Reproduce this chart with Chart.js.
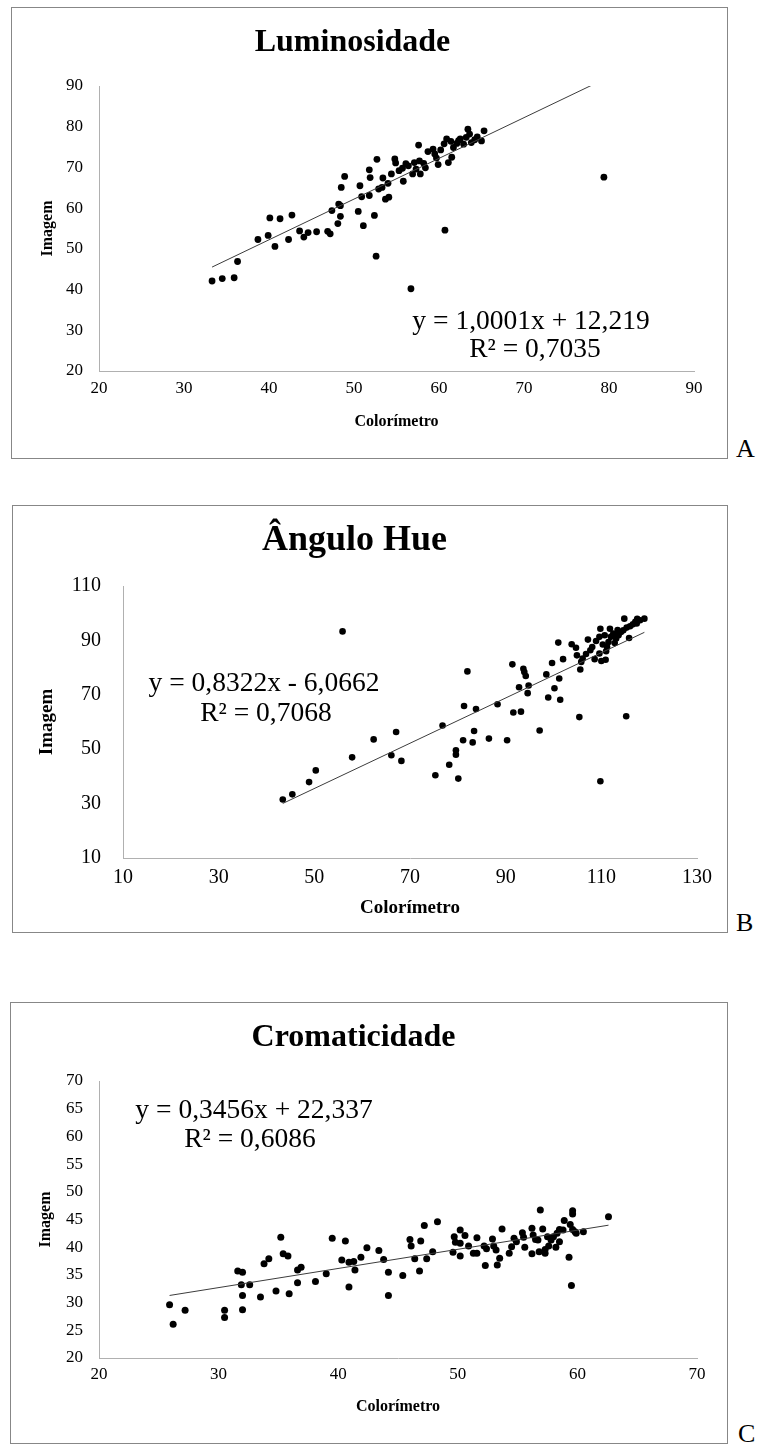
<!DOCTYPE html>
<html lang="pt">
<head>
<meta charset="utf-8">
<title>Colorímetro x Imagem</title>
<script src="https://cdn.jsdelivr.net/npm/chart.js@4.4.1/dist/chart.umd.min.js"></script>
<style>
  body { margin: 0; background: #fff; }
  #pagina { position: relative; width: 763px; height: 1446px; font-family: "Liberation Serif", "Times New Roman", serif; }
  .quadro { position: absolute; border: 1px solid #878787; box-sizing: border-box; }
  canvas { position: absolute; }
  .letra { position: absolute; font-size: 26px; line-height: 26px; color: #000; }
</style>
</head>
<body>
<div id="pagina">
  <canvas id="graficoA" width="716" height="451" style="left:11px;top:7px"></canvas>
  <div class="quadro" style="left:11px;top:7px;width:717px;height:452px"></div>
  <div class="letra" style="left:736px;top:436px">A</div>

  <canvas id="graficoB" width="715" height="427" style="left:12px;top:505px"></canvas>
  <div class="quadro" style="left:12px;top:505px;width:716px;height:428px"></div>
  <div class="letra" style="left:736px;top:910px">B</div>

  <canvas id="graficoC" width="717" height="441" style="left:10px;top:1002px"></canvas>
  <div class="quadro" style="left:10px;top:1002px;width:718px;height:442px"></div>
  <div class="letra" style="left:738px;top:1421px">C</div>
</div>

<script>
// Luminosidade (A)
const lumColorimetro = [33.3, 34.5, 35.9, 36.3, 38.7, 39.9, 40.1, 40.7, 41.3, 42.3, 42.7, 43.6, 44.1, 44.6, 45.6,
  46.9, 47.2, 47.4, 48.1, 48.2, 48.4, 48.4, 48.5, 48.9, 50.5, 50.7, 50.9, 51.1, 51.8, 51.8, 51.9, 52.4, 52.6,
  52.7, 52.9, 53.3, 53.4, 53.7, 54.0, 54.1, 54.4, 54.8, 54.9, 55.3, 55.7, 55.8, 56.1, 56.4, 56.7, 56.9, 57.1,
  57.3, 57.6, 57.7, 57.8, 58.2, 58.4, 58.7, 59.3, 59.5, 59.7, 59.9, 60.2, 60.6, 60.7, 60.9, 61.1, 61.4, 61.5,
  61.7, 62.1, 62.3, 62.5, 62.9, 63.2, 63.4, 63.6, 63.8, 64.2, 64.5, 65.0, 65.3, 79.4];
const lumImagem = [42.1, 42.7, 42.9, 46.9, 52.3, 53.3, 57.6, 50.6, 57.4, 52.3, 58.3, 54.4, 52.9, 54.0, 54.2,
  54.3, 53.7, 59.4, 56.2, 61.0, 58.0, 60.6, 65.1, 67.8, 59.2, 65.5, 62.8, 55.7, 63.1, 69.4, 67.5, 58.2, 48.2,
  72.0, 64.7, 65.1, 67.4, 62.2, 66.1, 62.7, 68.4, 72.1, 71.1, 69.2, 69.8, 66.6, 70.9, 70.4, 40.2, 68.4, 71.2,
  69.6, 75.5, 71.6, 68.4, 71.0, 69.9, 73.9, 74.5, 73.3, 72.3, 70.7, 74.3, 75.8, 54.6, 77.0, 71.2, 76.4, 72.5,
  74.9, 75.9, 76.6, 77.0, 75.7, 77.4, 79.4, 78.2, 76.1, 76.8, 77.5, 76.5, 79.0, 67.6];
const lumTendencia = [1.0001, 12.219];
const lumEixoX = [20, 90, 10];
const lumEixoY = [20, 90, 10];

// Ângulo Hue (B)
const hueColorimetro = [43.4, 45.4, 48.9, 50.3, 55.9, 57.9, 62.4, 66.1, 67.1, 68.2, 75.3, 76.8, 78.2, 79.6, 79.6,
  80.1, 81.1, 81.3, 82.0, 83.1, 83.4, 83.8, 86.5, 88.3, 90.3, 91.4, 91.6, 92.8, 93.2, 93.7, 93.9, 94.2, 94.6,
  94.8, 97.1, 98.5, 98.9, 99.7, 100.2, 101.0, 101.2, 101.4, 102.0, 103.8, 104.7, 104.9, 105.4, 105.6, 105.8,
  106.1, 106.8, 107.2, 107.7, 108.1, 108.6, 108.9, 109.6, 109.6, 109.8, 109.8, 110.0, 110.3, 110.7, 110.9,
  111.0, 111.2, 111.5, 111.8, 112.0, 112.5, 112.8, 113.1, 113.4, 113.6, 114.1, 114.6, 114.8, 115.2, 115.3,
  115.8, 116.0, 116.6, 117.1, 117.4, 117.5, 118.1, 119.0];
const hueImagem = [31.5, 33.4, 37.9, 42.2, 93.3, 47.0, 53.6, 47.8, 56.3, 45.7, 40.4, 58.7, 44.3, 48.0, 49.6,
  39.2, 53.3, 65.9, 78.6, 52.5, 56.7, 64.8, 53.9, 66.5, 53.3, 81.2, 63.5, 72.8, 63.8, 79.6, 78.4, 76.9, 70.6,
  73.4, 56.9, 77.5, 69.0, 81.7, 72.4, 89.2, 76.0, 68.2, 83.1, 88.6, 87.3, 84.5, 61.8, 79.3, 82.1,
  83.3, 85.0, 90.3, 86.4, 87.6, 83.1, 89.8, 85.2, 91.3, 94.3, 38.2, 82.4, 88.5, 91.9, 82.9,
  86.0, 87.6, 89.4, 94.3, 91.3, 92.5, 89.0, 90.7, 93.8, 91.9, 93.1, 93.7, 98.0, 62.1, 94.7,
  90.9, 95.2, 95.9, 96.8, 96.2, 97.9, 97.4, 98.0];
const hueTendencia = [0.8322, -6.0662];
const hueEixoX = [10, 130, 20];
const hueEixoY = [10, 110, 20];

// Cromaticidade (C)
const cromaColorimetro = [25.9, 26.2, 27.2, 30.5, 30.5, 31.6, 32.0, 31.9, 32.6, 32.0, 32.0, 33.5, 33.8, 34.2,
  34.8, 35.2, 35.4, 35.8, 35.9, 36.6, 36.6, 36.9, 38.1, 39.0, 39.5, 40.3, 40.6, 40.9, 40.9, 41.3, 41.4, 41.9,
  42.4, 43.4, 43.8, 44.2, 44.2, 45.4, 46.0, 46.1, 46.4, 46.8, 46.9, 47.2, 47.4, 47.9, 48.3, 49.6, 49.7, 49.8,
  50.2, 50.2, 50.2, 50.6, 50.9, 51.3, 51.6, 51.6, 52.2, 52.3, 52.4, 52.9, 53.0, 53.2, 53.3, 53.5, 53.7, 54.3,
  54.5, 54.7, 54.9, 55.4, 55.5, 55.6, 56.2, 56.3, 56.2, 56.5, 56.7, 56.8, 56.9, 57.1, 57.3, 57.3, 57.5, 57.6,
  57.8, 58.0, 58.2, 58.3, 58.5, 58.5, 58.8, 58.9, 59.3, 59.5, 59.6, 59.6, 59.4, 59.6, 59.8, 59.9, 60.5, 62.6];
const cromaImagem = [29.6, 26.1, 28.6, 28.6, 27.3, 35.7, 35.5, 33.2, 33.2, 31.3, 28.7, 31.0, 37.0, 37.9,
  32.1, 41.8, 38.8, 38.4, 31.6, 33.6, 35.9, 36.4, 33.8, 35.2, 41.6, 37.7, 41.1, 37.3, 32.8, 37.4, 35.9, 38.2,
  39.9, 39.4, 37.8, 35.5, 31.3, 34.9, 41.4, 40.2, 37.9, 35.7, 41.1, 43.9, 37.9, 39.2, 44.6, 39.1, 41.9, 40.9,
  40.7, 38.4, 43.1, 42.1, 40.2, 38.9, 41.7, 38.9, 40.2, 36.7, 39.7, 41.5, 40.2, 39.5, 36.8, 38.0, 43.3, 38.9,
  40.1, 41.6, 41.0, 42.6, 41.8, 40.0, 43.4, 42.2, 38.8, 41.4, 41.3, 39.2, 46.7, 43.3, 39.6, 38.9, 41.9, 40.2,
  41.3, 41.9, 40.0, 42.5, 41.0, 43.2, 43.1, 44.8, 38.2, 33.1, 46.6, 46.0, 44.1, 43.2, 42.8, 42.5, 42.8, 45.5];
const cromaTendencia = [0.3456, 22.337];
const cromaEixoX = [20, 70, 10];
const cromaEixoY = [20, 70, 5];

const fonte = 'Liberation Serif';

// escreve a equacao da linha de tendencia
const equacaoPlugin = {
  id: 'equacao',
  afterDraw(chart, args, opts) {
    const ctx = chart.ctx;
    ctx.save();
    ctx.fillStyle = '#000';
    ctx.font = opts.tamanho + 'px "' + fonte + '"';
    ctx.textAlign = 'center';
    ctx.textBaseline = 'alphabetic';
    opts.linhas.forEach(l => ctx.fillText(l[0], l[1], l[2]));
    ctx.restore();
  }
};

function criarGrafico(id, cfg) {
  const pontos = cfg.x.map((v, i) => ({ x: v, y: cfg.y[i] }));
  const xmin = Math.min(...cfg.x);
  const xmax = Math.max(...cfg.x);
  const tendencia = [
    { x: xmin, y: cfg.coef[0] * xmin + cfg.coef[1] },
    { x: xmax, y: cfg.coef[0] * xmax + cfg.coef[1] }
  ];
  const canvas = document.getElementById(id);

  new Chart(canvas, {
    type: 'scatter',
    data: {
      datasets: [
        { data: tendencia, showLine: true, borderColor: '#3c3c3c', borderWidth: 1, pointRadius: 0 },
        { data: pontos, pointRadius: cfg.raio, pointBackgroundColor: '#000', pointBorderWidth: 0 }
      ]
    },
    options: {
      responsive: false,
      animation: false,
      layout: { padding: { left: 0, top: 0, bottom: 0, right: canvas.width - cfg.area[2] } },
      plugins: {
        legend: { display: false },
        tooltip: { enabled: false },
        title: {
          display: true,
          text: cfg.titulo,
          color: '#000',
          font: { family: fonte, size: cfg.tamTitulo, weight: 'bold', lineHeight: 1.2 },
          padding: { top: cfg.tituloTopo, bottom: cfg.area[1] - cfg.tituloTopo - cfg.tamTitulo * 1.2 }
        },
        equacao: { tamanho: cfg.tamEq, linhas: cfg.eq }
      },
      scales: {
        x: {
          type: 'linear',
          min: cfg.eixoX[0], max: cfg.eixoX[1],
          ticks: { stepSize: cfg.eixoX[2], autoSkip: false, maxRotation: 0, color: '#000',
                   font: { family: fonte, size: cfg.tamTick }, padding: cfg.padX },
          grid: { display: false, drawTicks: false },
          border: { display: true, color: '#b0b0b0', width: 1 },
          title: { display: true, text: 'Colorímetro', color: '#000',
                   font: { family: fonte, size: cfg.tamEixo, weight: 'bold', lineHeight: 1.2 },
                   padding: { top: 0, bottom: cfg.padTituloX } },
          afterFit: s => { s.height = canvas.height - cfg.area[3]; }
        },
        y: {
          type: 'linear',
          min: cfg.eixoY[0], max: cfg.eixoY[1],
          ticks: { stepSize: cfg.eixoY[2], autoSkip: false, color: '#000',
                   font: { family: fonte, size: cfg.tamTick }, padding: cfg.padY },
          grid: { display: false, drawTicks: false },
          border: { display: true, color: '#b0b0b0', width: 1 },
          title: { display: true, text: 'Imagem', color: '#000',
                   font: { family: fonte, size: cfg.tamEixo, weight: 'bold', lineHeight: 1.2 },
                   padding: { top: cfg.padTituloY, bottom: 0 } },
          afterFit: s => { s.width = cfg.area[0]; }
        }
      }
    },
    plugins: [equacaoPlugin]
  });
}

criarGrafico('graficoA', {
  titulo: 'Luminosidade', x: lumColorimetro, y: lumImagem, coef: lumTendencia,
  eixoX: lumEixoX, eixoY: lumEixoY,
  area: [88, 79, 683, 364], raio: 3.4,
  tamTitulo: 32, tituloTopo: 17, tamTick: 17, tamEixo: 16, tamEq: 27.5,
  padX: 7, padY: 16, padTituloX: 27, padTituloY: 27,
  eq: [['y = 1,0001x + 12,219', 520, 322], ['R² = 0,7035', 524, 350]]
});

criarGrafico('graficoB', {
  titulo: 'Ângulo Hue', x: hueColorimetro, y: hueImagem, coef: hueTendencia,
  eixoX: hueEixoX, eixoY: hueEixoY,
  area: [111, 81, 685, 353], raio: 3.3,
  tamTitulo: 36, tituloTopo: 14, tamTick: 20, tamEixo: 19, tamEq: 27.5,
  padX: 8, padY: 22, padTituloX: 13, padTituloY: 24,
  eq: [['y = 0,8322x - 6,0662', 252, 186], ['R² = 0,7068', 254, 216]]
});

criarGrafico('graficoC', {
  titulo: 'Cromaticidade', x: cromaColorimetro, y: cromaImagem, coef: cromaTendencia,
  eixoX: cromaEixoX, eixoY: cromaEixoY,
  area: [89, 79, 687, 356], raio: 3.5,
  tamTitulo: 32, tituloTopo: 17, tamTick: 17, tamEixo: 16, tamEq: 27.5,
  padX: 6, padY: 16, padTituloX: 27, padTituloY: 26,
  eq: [['y = 0,3456x + 22,337', 244, 116], ['R² = 0,6086', 240, 145]]
});
</script>
</body>
</html>
